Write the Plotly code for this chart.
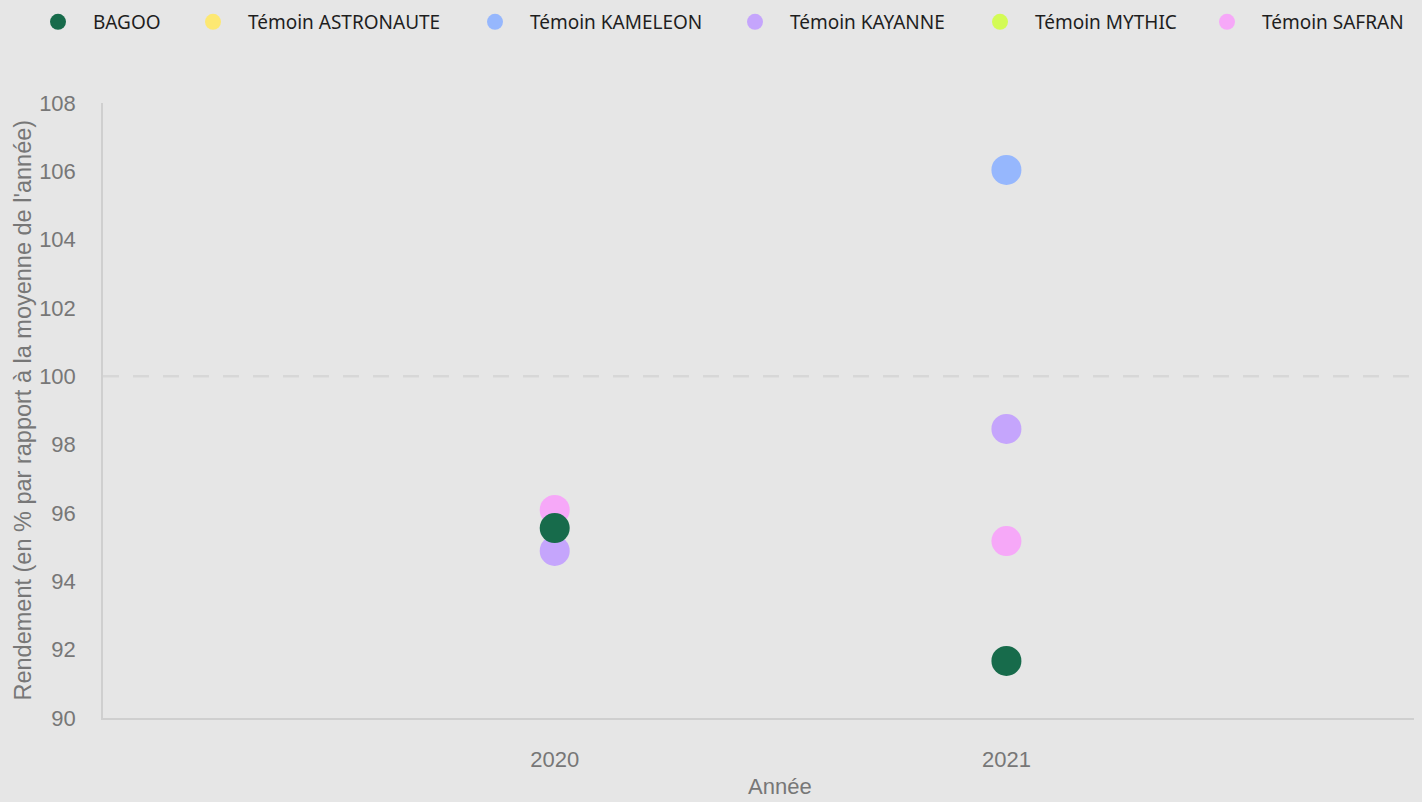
import plotly.graph_objects as go

years = ["2020", "2021"]
series_names = ["BAGOO", "Témoin ASTRONAUTE", "Témoin KAMELEON",
                "Témoin KAYANNE", "Témoin MYTHIC", "Témoin SAFRAN"]
bagoo = [95.56, 91.67]
astronaute = [None, None]
kameleon = [None, 106.04]
kayanne = [94.89, 98.46]
mythic = [None, None]
safran = [96.09, 95.18]
colors = ["#176b4b", "#fde872", "#96b7fd", "#c5a5fc", "#d3fb55", "#f6a8f8"]
y_ticks = [90, 92, 94, 96, 98, 100, 102, 104, 106, 108]
reference_level = 100

values = [bagoo, astronaute, kameleon, kayanne, mythic, safran]

# page offset of 8px (default body margin) is compensated in the figure size
W, H = 1414, 794
ML, MT, MB = 95, 95, 84
PW = W - ML
BG = "#e6e6e6"

legend_centers = [58, 213, 495, 755, 1000, 1227]  # legend symbol centres on screen

fig = go.Figure()
order = [1, 2, 3, 4, 5, 0]  # BAGOO drawn last (on top)
for i in order:
    lname = "legend" if i == 0 else f"legend{i + 1}"
    fig.add_trace(go.Scatter(
        x=years, y=values[i], name=series_names[i], mode="markers",
        marker=dict(size=30, color=colors[i], line=dict(width=0)),
        legend=lname,
    ))

legend_layout = {}
for i, cx in enumerate(legend_centers):
    lname = "legend" if i == 0 else f"legend{i + 1}"
    legend_layout[lname] = dict(
        orientation="h", xref="container", yref="container",
        x=(cx - 35 - 8) / W, xanchor="left",
        y=1 - (22 - 8) / H, yanchor="middle",
        itemwidth=60,
        font=dict(family="Noto Sans", size=19, color="#1e1e1e"),
        bgcolor="rgba(0,0,0,0)",
    )

fig.add_shape(type="line", xref="paper", x0=0, x1=1, yref="y",
              y0=reference_level, y1=reference_level,
              line=dict(color="#d7d7d7", width=2.5, dash="16px,14px"), layer="below")

fig.add_annotation(text="Rendement (en % par rapport à la moyenne de l'année)",
                   textangle=-90, xref="paper", yref="paper",
                   x=(22 - 103) / PW, y=0.5, showarrow=False,
                   xanchor="center", yanchor="middle",
                   font=dict(family="Liberation Sans", size=23.5, color="#777777"))
fig.add_annotation(text="Année", xref="paper", yref="paper",
                   x=(780 - 103) / PW, y=0, yshift=-68, showarrow=False,
                   xanchor="center", yanchor="middle",
                   font=dict(family="Liberation Sans", size=22, color="#777777"))

fig.update_layout(
    width=W, height=H,
    paper_bgcolor=BG, plot_bgcolor=BG,
    margin=dict(l=ML, r=0, t=MT, b=MB),
    showlegend=True,
    xaxis=dict(type="category", range=[-1, 1.92], showgrid=False, zeroline=False,
               showline=True, linecolor="#cfcfcf", linewidth=1.5,
               tickfont=dict(family="Liberation Sans", size=22, color="#777777"),
               ticklabelstandoff=21),
    yaxis=dict(range=[90, 108], tickvals=y_ticks, showgrid=False, zeroline=False,
               showline=True, linecolor="#cfcfcf", linewidth=1.5,
               tickfont=dict(family="Liberation Sans", size=22, color="#777777"),
               ticklabelstandoff=21),
    **legend_layout,
)

fig.write_html("out.html",
               post_script=f"document.body.style.background='{BG}';")
